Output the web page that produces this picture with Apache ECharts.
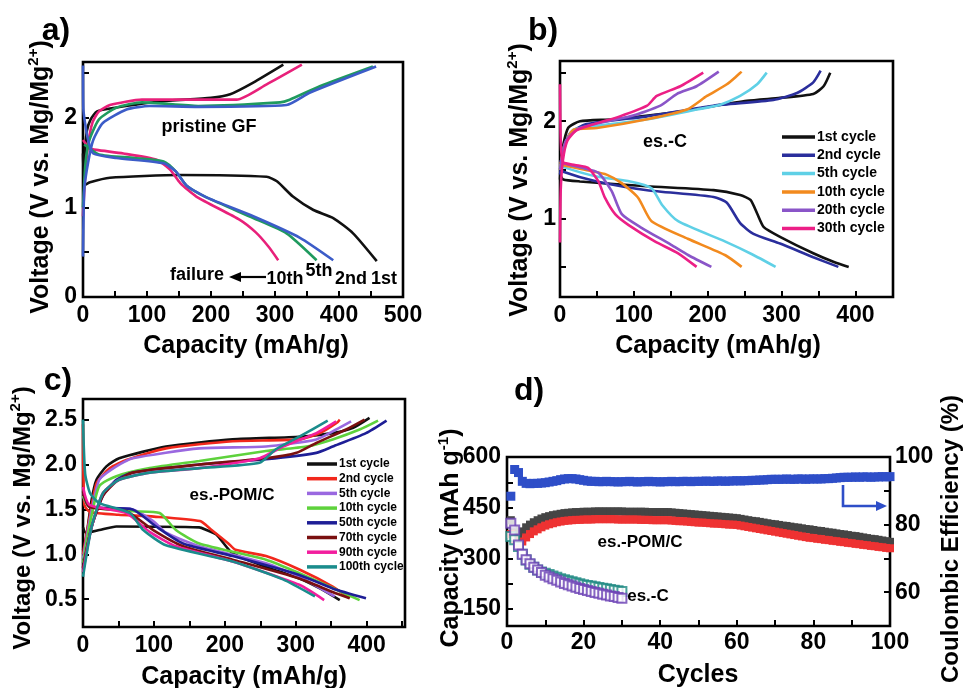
<!DOCTYPE html>
<html>
<head>
<meta charset="utf-8">
<script src="https://cdn.jsdelivr.net/npm/echarts@6/dist/echarts.min.js"></script>
<style>
  html, body { margin: 0; padding: 0; background: #fff; }
  #chart { width: 965px; height: 688px; }
</style>
</head>
<body>
<div id="chart"></div>
<script>
// ---------- Panel a: pristine GF, [capacity mAh/g, voltage V] ----------
const a1stCharge = [[1,1.25],[3,1.6],[6,1.85],[12,1.98],[22,2.07],[50,2.11],[120,2.18],[200,2.22],[230,2.26],[266,2.39],[313,2.59]];
const a1stDischarge = [[0,1.6],[3,1.25],[11,1.28],[42,1.33],[150,1.36],[287,1.34],[303,1.29],[328,1.12],[360,0.97],[391,0.88],[422,0.71],[459,0.4]];
const a10thCharge = [[0,0.9],[3,1.3],[8,1.7],[15,1.95],[25,2.07],[42,2.14],[92,2.2],[240,2.2],[287,2.37],[342,2.59]];
const a10thDischarge = [[0,1.75],[10,1.66],[21,1.64],[63,1.6],[115,1.53],[136,1.42],[152,1.27],[177,1.12],[245,0.86],[270,0.72],[290,0.56],[305,0.41]];
const a5thCharge = [[0,1.0],[4,1.5],[10,1.75],[25,1.98],[52,2.11],[92,2.17],[180,2.13],[308,2.17],[323,2.2],[370,2.35],[453,2.57]];
const a5thDischarge = [[2,1.7],[25,1.59],[80,1.55],[126,1.51],[145,1.4],[162,1.24],[193,1.11],[266,0.88],[318,0.71],[365,0.41]];
const a2ndCharge = [[0,0.45],[2,1.2],[8,1.5],[16,1.75],[31,1.94],[68,2.09],[104,2.13],[180,2.12],[318,2.14],[355,2.28],[458,2.57]];
const a2ndDischarge = [[0,2.58],[0.5,2.1],[3,1.95],[8,1.75],[16,1.6],[52,1.55],[126,1.49],[145,1.4],[162,1.24],[193,1.11],[266,0.9],[339,0.66],[391,0.41]];
const aCycleTags = ['10th', '5th', '2nd', '1st'];

// ---------- Panel b: es.-C ----------
const bCycleNames = ['1st cycle', '2nd cycle', '5th cycle', '10th cycle', '20th cycle', '30th cycle'];
const b1stCharge = [[0,1.4],[3,1.7],[11,1.93],[27,2.0],[72,2.02],[163,2.1],[253,2.21],[298,2.24],[343,2.28],[357,2.36],[366,2.5]];
const b1stDischarge = [[0,1.45],[4.5,1.40],[27,1.38],[118,1.33],[208,1.29],[244,1.24],[258,1.19],[267,1.05],[276,0.91],[298,0.81],[343,0.64],[371,0.55],[391,0.5]];
const b2ndCharge = [[0,1.45],[5,1.7],[14,1.88],[36,1.97],[118,2.05],[208,2.16],[289,2.22],[321,2.29],[343,2.4],[353,2.52]];
const b2ndDischarge = [[0,1.52],[4.5,1.48],[50,1.38],[118,1.29],[208,1.22],[226,1.16],[244,0.95],[262,0.84],[298,0.74],[343,0.6],[377,0.5]];
const b5thCharge = [[0,1.5],[6,1.75],[18,1.91],[50,1.95],[118,2.02],[185,2.12],[217,2.17],[244,2.26],[267,2.38],[280,2.5]];
const b5thDischarge = [[0,1.56],[4,1.53],[50,1.43],[95,1.38],[124,1.31],[138,1.14],[160,0.97],[224,0.76],[260,0.63],[292,0.5]];
const b10thCharge = [[0,1.5],[6,1.75],[18,1.91],[50,1.93],[118,2.02],[172,2.12],[199,2.26],[226,2.38],[246,2.51]];
const b10thDischarge = [[0,1.58],[4,1.55],[40,1.49],[63,1.45],[84,1.36],[106,1.21],[124,0.97],[173,0.79],[224,0.62],[246,0.5]];
const b20thCharge = [[0,1.5],[8,1.8],[27,1.93],[95,2.05],[136,2.16],[158,2.28],[185,2.36],[215,2.51]];
const b20thDischarge = [[0,1.6],[4,1.57],[30,1.52],[52,1.47],[70,1.28],[84,1.04],[111,0.9],[150,0.73],[174,0.62],[205,0.5]];
const b30thCharge = [[0,0.75],[1,1.3],[4,1.6],[10,1.8],[23,1.91],[81,2.05],[118,2.16],[131,2.26],[163,2.36],[194,2.5]];
const b30thDischarge = [[0,2.38],[1,1.8],[4,1.58],[20,1.55],[38,1.52],[52,1.38],[61,1.21],[75,1.04],[93,0.93],[129,0.76],[160,0.64],[185,0.5]];

// ---------- Panel c: es.-POM/C ----------
const cCycleNames = ['1st cycle', '2nd cycle', '5th cycle', '10th cycle', '50th cycle', '70th cycle', '90th cycle', '100th cycle'];
const c1stCharge = [[0,1.05],[4,1.16],[12,1.6],[19,1.83],[33,1.98],[51,2.07],[117,2.2],[211,2.28],[305,2.31],[352,2.35],[381,2.41],[404,2.52]];
const c1stDischarge = [[0,1.3],[4,1.24],[23,1.27],[47,1.31],[164,1.3],[174,1.27],[188,1.22],[211,1.01],[258,0.86],[305,0.73],[334,0.62],[362,0.49]];
const c2ndCharge = [[0,1.0],[7,1.31],[19,1.79],[38,1.96],[61,2.05],[117,2.18],[211,2.26],[305,2.28],[334,2.35],[357,2.46],[362,2.5]];
const c2ndDischarge = [[0,2.45],[2,1.55],[10,1.47],[50,1.44],[100,1.42],[165,1.37],[180,1.28],[205,1.12],[215,1.05],[258,0.98],[305,0.83],[352,0.64],[376,0.51]];
const c5thCharge = [[0,0.95],[10,1.4],[23,1.83],[47,1.98],[70,2.07],[164,2.18],[258,2.2],[329,2.28],[357,2.39],[378,2.48]];
const c5thDischarge = [[0,1.65],[9,1.53],[70,1.5],[99,1.37],[117,1.24],[164,1.09],[258,0.9],[305,0.75],[355,0.53]];
const c10thCharge = [[0,0.9],[10,1.35],[23,1.76],[47,1.87],[94,1.96],[164,2.04],[258,2.15],[315,2.2],[352,2.28],[390,2.39],[416,2.49]];
const c10thDischarge = [[0,1.65],[9,1.53],[70,1.48],[108,1.46],[131,1.27],[164,1.12],[258,0.94],[305,0.79],[390,0.49]];
const c50thCharge = [[0,0.85],[12,1.3],[28,1.65],[47,1.83],[70,1.91],[164,2.0],[258,2.06],[329,2.13],[352,2.2],[399,2.35],[428,2.49]];
const c50thDischarge = [[0,1.7],[9,1.53],[70,1.5],[103,1.31],[141,1.12],[211,0.98],[305,0.77],[352,0.62],[399,0.51]];
const c70thCharge = [[0,0.85],[12,1.3],[28,1.65],[47,1.81],[70,1.91],[164,2.0],[258,2.07],[301,2.13],[329,2.24],[371,2.39],[397,2.5]];
const c70thDischarge = [[0,1.7],[9,1.53],[61,1.48],[99,1.27],[141,1.09],[211,0.94],[305,0.73],[352,0.58],[376,0.51]];
const c90thCharge = [[0,0.8],[12,1.3],[28,1.68],[51,1.83],[94,1.91],[164,1.96],[249,2.07],[282,2.2],[329,2.35],[357,2.48]];
const c90thDischarge = [[0,1.75],[9,1.55],[61,1.46],[94,1.25],[131,1.09],[211,0.92],[305,0.66],[340,0.49]];
const c100thCharge = [[0,0.75],[12,1.3],[28,1.68],[51,1.83],[94,1.91],[164,1.96],[249,2.02],[272,2.17],[305,2.31],[345,2.49]];
const c100thDischarge = [[0,2.5],[3,1.9],[10,1.68],[23,1.57],[66,1.46],[85,1.27],[117,1.1],[211,0.92],[282,0.72],[327,0.53]];

// ---------- Panel d: cycling, one value per cycle starting at cycle 1 ----------
const dCoulombicEff = [
  88.4, 96.3, 95.4, 92.8, 92.2, 92.1, 92.2, 92.2, 92.3, 92.4,
  92.6, 92.8, 93.0, 93.3, 93.5, 93.6, 93.6, 93.5, 93.3, 93.1,
  92.9, 92.8, 92.8, 92.7, 92.7, 92.8, 92.7, 92.7, 92.6, 92.7,
  92.7, 92.8, 92.7, 92.6, 92.7, 92.7, 92.8, 92.7, 92.7, 92.6,
  92.7, 92.7, 92.8, 92.7, 92.7, 92.8, 92.8, 92.7, 92.8, 92.8,
  92.8, 92.9, 92.8, 92.8, 92.9, 92.9, 92.8, 92.9, 92.9, 93.0,
  92.9, 93.0, 93.0, 93.1, 93.1, 93.2, 93.2, 93.3, 93.4, 93.4,
  93.4, 93.4, 93.5, 93.4, 93.4, 93.5, 93.5, 93.4, 93.5, 93.5,
  93.5, 93.5, 93.6, 93.6, 93.7, 93.8, 93.9, 94.0, 94.0, 94.0,
  94.1, 94.0, 94.1, 94.1, 94.0, 94.1, 94.1, 94.2, 94.1, 94.2
];
const dPomCapDark = [
  413, 384, 372, 380, 392, 400, 407, 413, 418, 422,
  425, 428, 430, 432, 434, 435, 436, 437, 437, 438,
  438, 438, 439, 439, 439, 439, 439, 439, 439, 439,
  438, 438, 438, 438, 438, 438, 437, 437, 437, 437,
  437, 437, 436, 435, 434, 433, 432, 431, 430, 429,
  428, 427, 426, 425, 424, 423, 422, 421, 420, 419,
  417, 415, 413, 411, 410, 408, 406, 404, 402, 401,
  399, 397, 396, 394, 392, 391, 389, 387, 386, 384,
  382, 381, 379, 377, 376, 374, 372, 371, 369, 367,
  366, 364, 362, 360, 358, 357, 355, 353, 351, 349
];
const dPomCapRed = [
  372, 355, 342, 350, 362, 372, 380, 386, 392, 397,
  401, 404, 407, 409, 411, 412, 413, 414, 414, 415,
  415, 415, 416, 416, 416, 416, 416, 416, 415, 415,
  415, 415, 415, 415, 414, 414, 414, 413, 413, 413,
  413, 413, 412, 411, 410, 410, 409, 408, 407, 406,
  406, 405, 404, 403, 403, 402, 401, 400, 400, 399,
  397, 395, 393, 391, 389, 387, 385, 383, 381, 379,
  377, 375, 373, 371, 369, 367, 365, 363, 361, 360,
  358, 357, 355, 354, 352, 351, 349, 348, 346, 345,
  343, 342, 340, 339, 337, 336, 334, 333, 331, 330
];
const dCCapTeal = [
  365, 355, 335, 312, 295, 283, 274, 266, 260, 256,
  252, 248, 244, 240, 237, 234, 231, 228, 225, 222,
  220, 218, 216, 214, 212, 210, 208, 206, 204, 202
];
const dCCapPurple = [
  404, 384, 340, 312, 296, 284, 274, 266, 258, 250,
  245, 240, 235, 230, 226, 222, 218, 215, 211, 208,
  205, 202, 199, 197, 194, 192, 189, 187, 184, 182
];

// ---------- tick positions and labels ----------
const aXTicks = [0,50,100,150,200,250,300,350,400,450,500];
const aXLabels = [0,100,200,300,400,500];
const aYTicks = [0,0.5,1,1.5,2,2.5];
const aYLabels = [0,1,2];
const bXTicks = [0,50,100,150,200,250,300,350,400,450];
const bXLabels = [0,100,200,300,400];
const bYTicks = [0.5,1,1.5,2,2.5];
const bYLabels = [1,2];
const cXTicks = [0,50,100,150,200,250,300,350,400,450];
const cXLabels = [0,100,200,300,400];
const cYTicks = [0.5,1,1.5,2,2.5];
const cYLabels = [0.5,1,1.5,2,2.5];
const dXTicks = [0,10,20,30,40,50,60,70,80,90,100];
const dXLabels = [0,20,40,60,80,100];
const dLeftTicks = [150,225,300,375,450,525,600];
const dLeftLabels = [150,300,450,600];
const dRightTicks = [60,70,80,90,100];
const dRightLabels = [60,80,100];

// ---------- styling ----------
const FONT = 'Liberation Sans, Arial, sans-serif';
const aColors = ['#111111', '#e8207a', '#1f9a5e', '#3c5cc8'];
const bColors = ['#111111', '#2a2e9c', '#5fd0e6', '#f28a1e', '#8a55c8', '#ec1f86'];
const cColors = ['#111111', '#f2281c', '#9a68e0', '#5ed23c', '#1e1e96', '#7a1010', '#f21e9e', '#1a8c8c'];

function valueAxis(gridIndex, min, max, ticks, labels, opts) {
  opts = opts || {};
  return Object.assign({
    type: 'value', gridIndex: gridIndex, min: min, max: max,
    axisLine: { show: false },
    splitLine: { show: false },
    axisTick: { show: true, inside: true, length: 6, customValues: ticks,
                lineStyle: { color: '#000', width: 2 } },
    axisLabel: { show: true, customValues: labels, margin: opts.margin || 6,
                 color: '#000', fontFamily: FONT, fontWeight: 'bold', fontSize: 23,
                 formatter: opts.formatter || (v => String(v)) }
  }, opts.extra || {});
}

function curve(data, color, xi, yi) {
  return {
    type: 'line', xAxisIndex: xi, yAxisIndex: yi, data: data,
    showSymbol: false, symbol: 'none', smooth: 0.2, clip: true,
    lineStyle: { color: color, width: 2.6 }, itemStyle: { color: color },
    animation: false, silent: true
  };
}

function cycleSeries(values, color, yi, symbol, size) {
  return {
    type: 'scatter', xAxisIndex: 3, yAxisIndex: yi,
    data: values.map((v, i) => [i + 1, v]),
    symbol: symbol, symbolSize: size,
    itemStyle: symbol === 'emptyRect'
      ? { color: color, borderColor: color, borderWidth: 3 }
      : { color: color, opacity: 1 },
    animation: false, silent: true
  };
}

const series = [];
// panel a
[[a1stCharge, a1stDischarge], [a10thCharge, a10thDischarge], [a5thCharge, a5thDischarge], [a2ndCharge, a2ndDischarge]]
  .forEach((pair, i) => pair.forEach(d => series.push(curve(d, aColors[i], 0, 0))));
// panel b
[[b1stCharge, b1stDischarge], [b2ndCharge, b2ndDischarge], [b5thCharge, b5thDischarge],
 [b10thCharge, b10thDischarge], [b20thCharge, b20thDischarge], [b30thCharge, b30thDischarge]]
  .forEach((pair, i) => pair.forEach(d => series.push(curve(d, bColors[i], 1, 1))));
// panel c
[[c1stCharge, c1stDischarge], [c2ndCharge, c2ndDischarge], [c5thCharge, c5thDischarge],
 [c10thCharge, c10thDischarge], [c50thCharge, c50thDischarge], [c70thCharge, c70thDischarge],
 [c90thCharge, c90thDischarge], [c100thCharge, c100thDischarge]]
  .forEach((pair, i) => pair.forEach(d => series.push(curve(d, cColors[i], 2, 2))));
// panel d
series.push(cycleSeries(dCoulombicEff, '#2e4ec8', 4, 'rect', 9));
series.push(cycleSeries(dPomCapDark, '#454545', 3, 'rect', 8));
series.push(cycleSeries(dPomCapRed, '#ee3232', 3, 'rect', 8));
series.push(cycleSeries(dCCapTeal, '#1e8a82', 3, 'emptyRect', 9));
series.push(cycleSeries(dCCapPurple, '#6a40b4', 3, 'emptyRect', 9));

// ---------- text, legends and arrows ----------
const bold = (size) => ({ fontFamily: FONT, fontWeight: 'bold', fontSize: size, fill: '#000' });
function label(text, x, y, size, extra) {
  return { type: 'text', x: x, y: y, z: 100,
           style: Object.assign(bold(size), { text: text, align: 'center', verticalAlign: 'middle' }, extra || {}) };
}
function vLabel(text, x, y, size) {
  return { type: 'text', x: x, y: y, rotation: Math.PI / 2, z: 100,
           style: Object.assign(bold(size), {
             text: text, align: 'center', verticalAlign: 'middle',
             rich: { sup: { fontFamily: FONT, fontWeight: 'bold', fontSize: 15, verticalAlign: 'top', lineHeight: 30 },
                     n: { fontFamily: FONT, fontWeight: 'bold', fontSize: size, lineHeight: 30 } } }) };
}
function legendBlock(names, colors, x, y0, step, size, lineLen) {
  const out = [];
  names.forEach((n, i) => {
    const y = y0 + i * step;
    out.push({ type: 'line', z: 100, shape: { x1: x, y1: y, x2: x + lineLen, y2: y },
               style: { stroke: colors[i], lineWidth: 3.5 } });
    out.push({ type: 'text', x: x + lineLen + 2, y: y, z: 100,
               style: Object.assign(bold(size), { text: n, align: 'left', verticalAlign: 'middle' }) });
  });
  return out;
}

const TITLE = 25;
const graphics = [
  label('a)', 56, 31, 32), label('b)', 543, 31, 32), label('c)', 58, 381, 32), label('d)', 529, 391, 32),
  label('Capacity (mAh/g)', 246, 346, TITLE), label('Capacity (mAh/g)', 718, 346, TITLE),
  label('Capacity (mAh/g)', 244, 677, TITLE), label('Cycles', 698, 675, TITLE),
  vLabel('{n|Voltage (V vs. Mg/Mg}{sup|2+}{n|)}', 41, 177, TITLE),
  vLabel('{n|Voltage (V vs. Mg/Mg}{sup|2+}{n|)}', 520, 180, TITLE),
  vLabel('{n|Voltage (V vs. Mg/Mg}{sup|2+}{n|)}', 23, 518, 24),
  vLabel('{n|Capacity (mAh g}{sup|-1}{n|)}', 451, 538, TITLE),
  vLabel('{n|Coulombic Efficiency (%)}', 951, 539, 24),
  label('pristine GF', 209, 127, 18), label('es.-C', 665, 142, 18), label('es.-POM/C', 232, 495, 17),
  label('es.-POM/C', 640, 542, 17), label('es.-C', 648, 596, 17),
  label('failure', 197, 275, 18),
  { type: 'line', z: 100, shape: { x1: 238, y1: 277, x2: 266, y2: 277 }, style: { stroke: '#000', lineWidth: 2.2 } },
  { type: 'polygon', z: 100, shape: { points: [[229, 277], [241, 272], [241, 282]] }, style: { fill: '#000' } },
  label(aCycleTags[0], 285, 279, 18), label(aCycleTags[1], 319, 271, 18),
  label(aCycleTags[2], 351, 279, 18), label(aCycleTags[3], 384, 279, 18),
  { type: 'polyline', z: 100, shape: { points: [[843, 485], [843, 506], [878, 506]] },
    style: { stroke: '#2e4ec8', lineWidth: 2.6, fill: null } },
  { type: 'polygon', z: 100, shape: { points: [[887, 506], [876, 501], [876, 511]] }, style: { fill: '#2e4ec8' } }
].concat(
  legendBlock(bCycleNames, bColors, 782, 137, 18.3, 14, 33),
  legendBlock(cCycleNames, cColors, 307, 464, 14.7, 12, 30)
);

const option = {
  backgroundColor: '#ffffff',
  animation: false,
  grid: [
    { left: 83, top: 62, width: 320, height: 235 },
    { left: 560, top: 61, width: 333, height: 236 },
    { left: 83, top: 399, width: 322, height: 228 },
    { left: 507, top: 457, width: 383, height: 169 }
  ].map(g => Object.assign({ show: true, borderColor: '#000', borderWidth: 2.6, backgroundColor: 'transparent', containLabel: false }, g)),
  xAxis: [
    valueAxis(0, 0, 500, aXTicks, aXLabels, { margin: 7 }),
    valueAxis(1, 0, 451, bXTicks, bXLabels, { margin: 7 }),
    valueAxis(2, 0, 454, cXTicks, cXLabels, { margin: 7 }),
    valueAxis(3, 0, 100, dXTicks, dXLabels, { margin: 5 })
  ],
  yAxis: [
    valueAxis(0, 0, 2.62, aYTicks, aYLabels, { margin: 6 }),
    valueAxis(1, 0.19, 2.62, bYTicks, bYLabels, { margin: 4 }),
    valueAxis(2, 0.19, 2.73, cYTicks, cYLabels, { margin: 6, formatter: v => v.toFixed(1) }),
    valueAxis(3, 100, 600, dLeftTicks, dLeftLabels, { margin: 6 }),
    valueAxis(3, 50, 100, dRightTicks, dRightLabels, { margin: 5, extra: { position: 'right' } })
  ],
  series: series,
  graphic: graphics
};

const chart = echarts.init(document.getElementById('chart'), null, { renderer: 'canvas' });
chart.setOption(option);
</script>
</body>
</html>
